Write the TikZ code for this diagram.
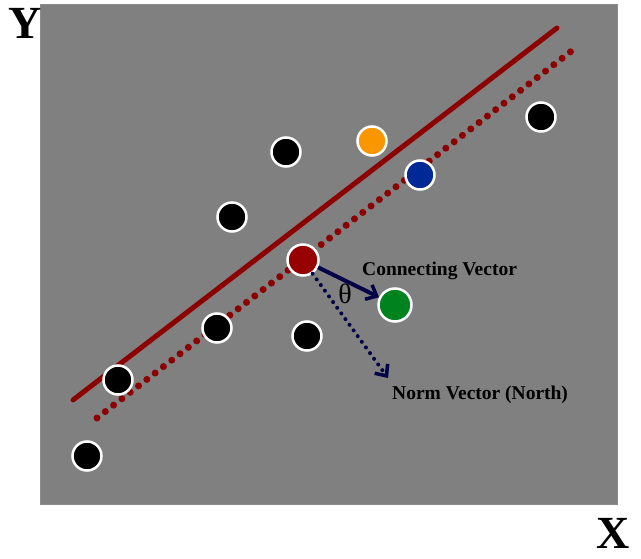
\documentclass[tikz,border=0pt]{standalone}
\usepackage{fontspec}
\setmainfont{Liberation Serif}
\usetikzlibrary{arrows.meta}
\definecolor{bggray}{RGB}{128,128,128}
\definecolor{lineRed}{RGB}{140,0,0}
\definecolor{ptRed}{RGB}{150,0,0}
\definecolor{ptOrange}{RGB}{250,150,0}
\definecolor{ptBlue}{RGB}{0,40,150}
\definecolor{ptGreen}{RGB}{0,130,30}
\definecolor{navyArrow}{RGB}{0,0,70}
\begin{document}
\begin{tikzpicture}[x=1pt,y=-1pt,
  pt/.style={circle,draw=white,line width=2.5pt,minimum size=29pt,inner sep=0pt},
  lbl/.style={font=\bfseries\fontsize{19.5}{20}\selectfont,anchor=west,inner sep=0pt},
  axis/.style={font=\bfseries\fontsize{46}{46}\selectfont,inner sep=0pt},
  vec/.style={navyArrow,line width=4pt,-{Straight Barb[length=9pt,width=16pt,line width=3.5pt]}}]
\useasboundingbox (0,0) rectangle (641,559);
\fill[white] (0,0) rectangle (641,559);
\fill[bggray] (40,4) rectangle (618,505);
\draw[black!45,line width=1pt] (40.5,4.5) rectangle (617.5,504.5);
\node[axis] (ylab) at (25,23) {Y};
\node[axis] (xlab) at (613,533) {X};
% separating lines
\coordinate (s1) at (73,400);
\coordinate (s2) at (557,28);
\coordinate (d1) at (97,418);
\coordinate (d2) at (578,46);
\draw[lineRed,line width=5pt,line cap=round] (s1) -- (s2);
\draw[lineRed,line width=7pt,line cap=round,dash pattern=on 0pt off 10.5pt] (d1) -- (d2);
% points
\node[pt,fill=black] (p1) at (87,456) {};
\node[pt,fill=black] (p2) at (118,380) {};
\node[pt,fill=black] (p3) at (217,328) {};
\node[pt,fill=black] (p4) at (232,217) {};
\node[pt,fill=black] (p5) at (286,152) {};
\node[pt,fill=ptOrange] (p6) at (372,141) {};
\node[pt,fill=ptBlue] (p7) at (420,175) {};
\node[pt,fill=black] (p8) at (541,117) {};
\node[pt,fill=black] (p9) at (307,336) {};
\node[pt,fill=ptRed,minimum size=31pt] (red) at (303,260) {};
\node[pt,fill=ptGreen,minimum size=33pt] (green) at (395,305) {};
% vectors
\coordinate (normtip) at (388,378);
\draw[vec] (red) -- (green);
\draw[vec,line cap=round,dash pattern=on 0pt off 7pt] (red.-55) -- (normtip);
\node[font=\fontsize{28}{28}\selectfont,inner sep=0pt] (theta) at (345,294) {θ};
\node[lbl] (cv) at (362,271) {Connecting Vector};
\node[lbl] (nv) at (392,395) {Norm Vector (North)};
\end{tikzpicture}
\end{document}
